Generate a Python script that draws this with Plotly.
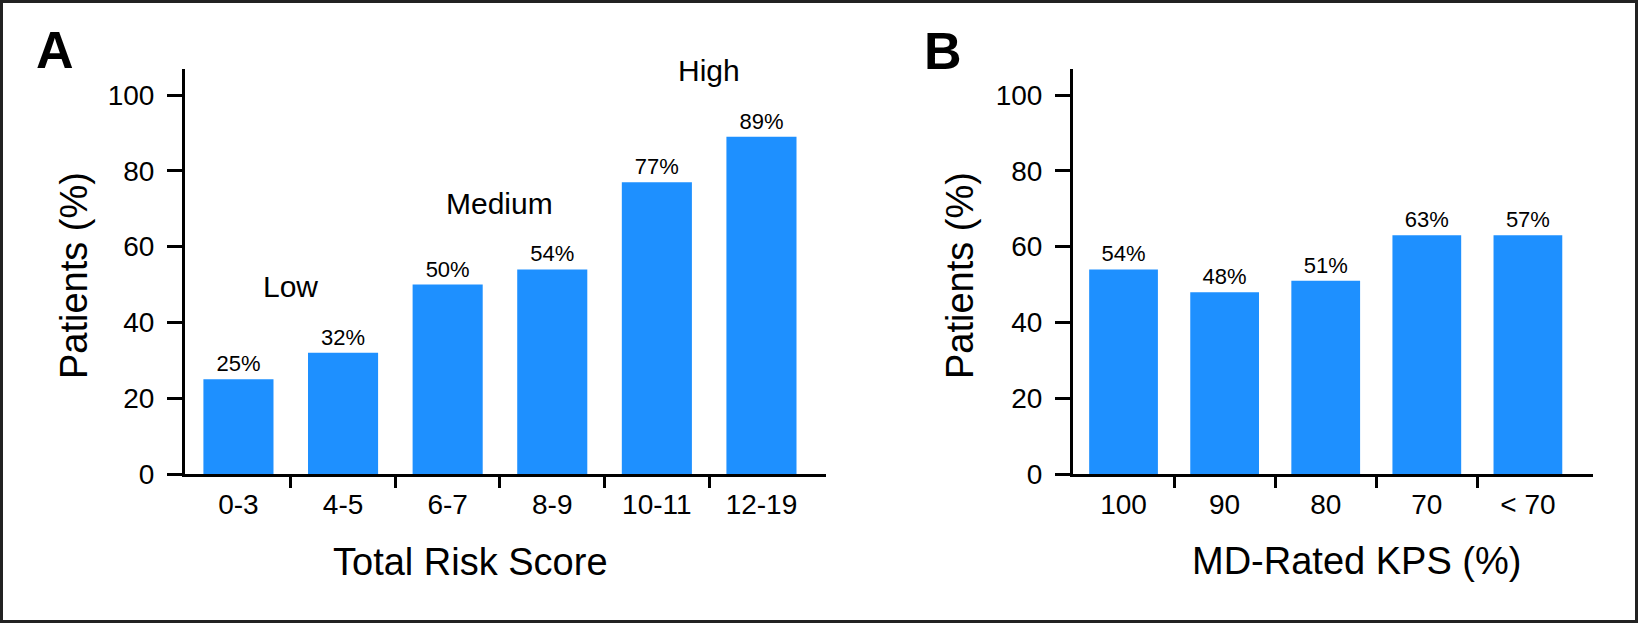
import plotly.graph_objects as go

# ---------------- data ----------------
risk_categories = ["0-3", "4-5", "6-7", "8-9", "10-11", "12-19"]
risk_values = [25, 32, 50, 54, 77, 89]
risk_labels = ["25%", "32%", "50%", "54%", "77%", "89%"]
risk_groups = ["Low", "Low", "Medium", "Medium", "High", "High"]

kps_categories = ["100", "90", "80", "70", "< 70"]
kps_values = [54, 48, 51, 63, 63]
kps_labels = ["54%", "48%", "51%", "63%", "57%"]

y_ticks = [0, 20, 40, 60, 80, 100]

# ---------------- style ----------------
W, H = 1639, 624
BLUE = "#1E90FF"
REG = "Liberation Sans, Arial, Helvetica, sans-serif"

def px_x(p):
    return p / W

def px_y(p):
    return 1 - p / H

y_dom = [px_y(474), px_y(69)]
xa_dom = [px_x(185), px_x(826)]
xb_dom = [px_x(1073), px_x(1593)]

fig = go.Figure()

fig.add_trace(go.Bar(
    x=list(range(len(risk_categories))), y=risk_values,
    text=risk_labels, textposition="outside", cliponaxis=False,
    textfont=dict(family=REG, size=22, color="black"),
    marker=dict(color=BLUE, line=dict(width=0)), width=0.67,
    xaxis="x", yaxis="y", showlegend=False, hoverinfo="skip",
))
fig.add_trace(go.Bar(
    x=list(range(len(kps_categories))), y=kps_values,
    text=kps_labels, textposition="outside", cliponaxis=False,
    textfont=dict(family=REG, size=22, color="black"),
    marker=dict(color=BLUE, line=dict(width=0)), width=0.68,
    xaxis="x2", yaxis="y2", showlegend=False, hoverinfo="skip",
))

def xaxis_cfg(domain, cats, rng, anchor):
    n = len(cats)
    return dict(
        domain=domain, anchor=anchor, range=rng, automargin=False,
        tickmode="array", tickvals=list(range(n)), ticktext=cats,
        ticks="", showline=True, linewidth=3, linecolor="black",
        tickfont=dict(family=REG, size=28, color="black"),
        ticklabelstandoff=3,
        minor=dict(tickmode="array", tickvals=[i + 0.5 for i in range(n - 1)],
                   ticks="outside", ticklen=11, tickwidth=2.5, tickcolor="black",
                   showgrid=False),
        showgrid=False, zeroline=False, fixedrange=True,
    )

def yaxis_cfg(anchor):
    return dict(
        domain=y_dom, anchor=anchor, range=[0, 106.9], automargin=False,
        tickmode="array", tickvals=y_ticks,
        ticks="outside", ticklen=15, tickwidth=2.5, tickcolor="black",
        showline=True, linewidth=3, linecolor="black",
        tickfont=dict(family=REG, size=28, color="black"),
        ticklabelstandoff=7,
        showgrid=False, zeroline=False, fixedrange=True,
    )

def note(x, y, text, size, xref="paper", yref="paper", angle=0):
    return dict(x=x, y=y, xref=xref, yref=yref, text=text, showarrow=False,
                xanchor="center", yanchor="middle", textangle=angle,
                font=dict(family=REG, size=size, color="black"))

annotations = []

# risk group labels above each group
for g in dict.fromkeys(risk_groups):
    idx = [i for i, gg in enumerate(risk_groups) if gg == g]
    annotations.append(note(sum(idx) / len(idx),
                            max(risk_values[i] for i in idx) + 17.5,
                            g, 30, xref="x", yref="y"))

# panel letters
annotations.append(note(px_x(55), px_y(50), "<b>A</b>", 52))
annotations.append(note(px_x(943), px_y(51), "<b>B</b>", 52))

# axis titles
annotations.append(note(px_x(470), px_y(562), "Total Risk Score", 38))
annotations.append(note(px_x(1356), px_y(561), "MD-Rated KPS (%)", 38))
annotations.append(note(px_x(74), px_y(276), "Patients (%)", 38, angle=-90))
annotations.append(note(px_x(960), px_y(276), "Patients (%)", 38, angle=-90))

fig.update_layout(
    template="none",
    width=W, height=H, margin=dict(l=0, r=0, t=0, b=0, autoexpand=False),
    paper_bgcolor="white", plot_bgcolor="white",
    xaxis=xaxis_cfg(xa_dom, risk_categories, [-0.511, 5.617], "y"),
    yaxis=yaxis_cfg("x"),
    xaxis2=xaxis_cfg(xb_dom, kps_categories, [-0.5, 4.644], "y2"),
    yaxis2=yaxis_cfg("x2"),
    annotations=annotations,
    bargap=0.3,
    shapes=[dict(type="rect", xref="paper", yref="paper",
                 x0=px_x(1.5), x1=px_x(W - 2.5), y0=px_y(H - 2.5), y1=px_y(1.5),
                 line=dict(color="#222222", width=3), fillcolor="rgba(0,0,0,0)")],
)

fig.write_html(
    "out.html",
    config={"displayModeBar": False},
    post_script="document.body.style.margin='0';document.body.style.overflow='hidden';",
)
